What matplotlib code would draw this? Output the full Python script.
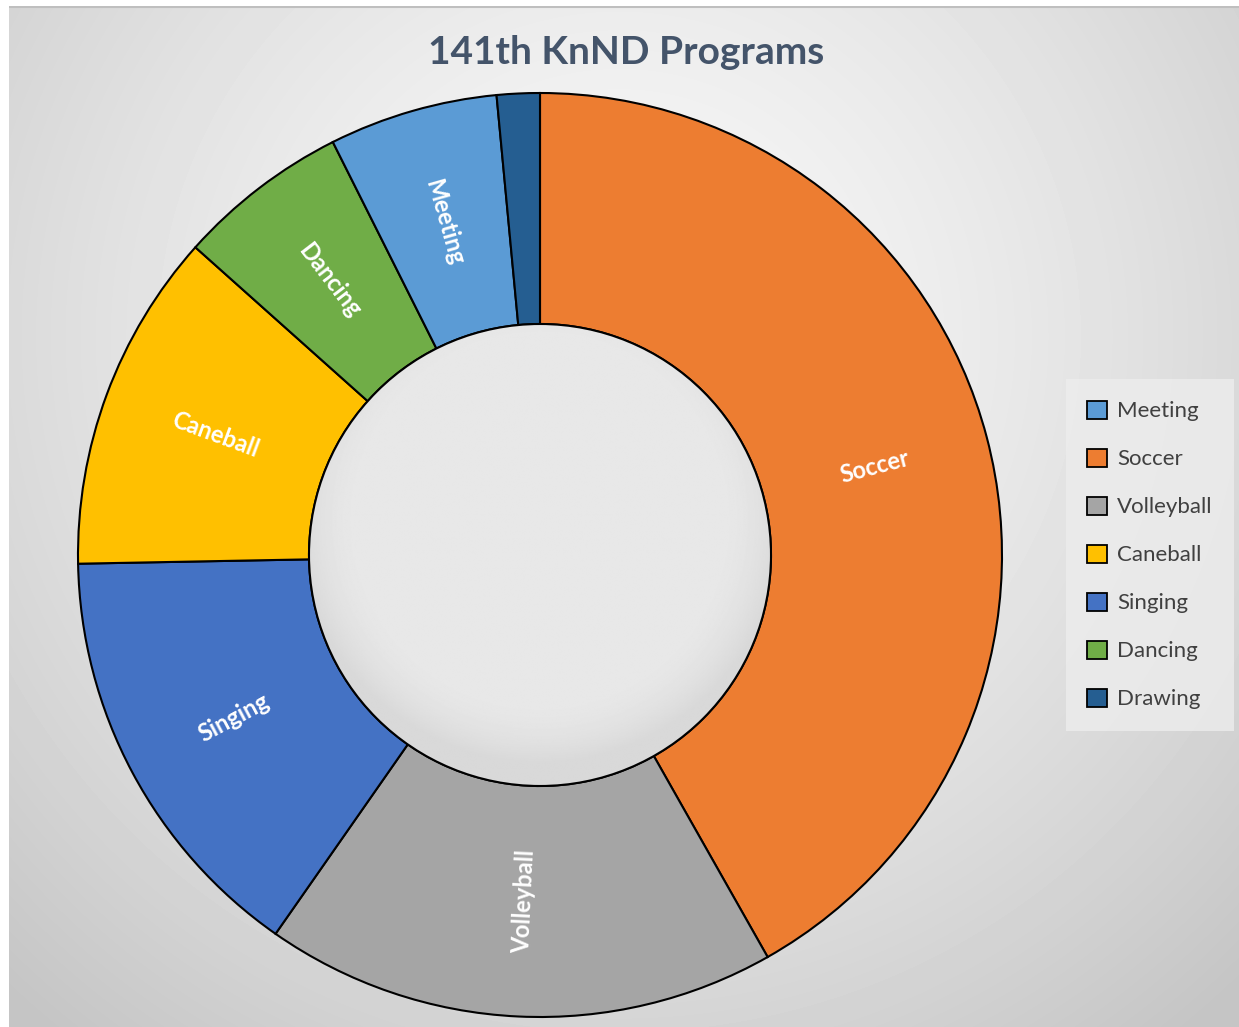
import numpy as np
import matplotlib
matplotlib.use("Agg")
import matplotlib.pyplot as plt
from matplotlib.patches import Patch, Circle

plt.rcParams['font.family'] = ['Lato', 'DejaVu Sans']

# slices in clockwise order starting at 12 o'clock (percent)
programs = ['Soccer', 'Volleyball', 'Singing', 'Caneball', 'Dancing', 'Meeting', 'Drawing']
shares = [41.8, 17.9, 15.0, 11.9, 6.0, 5.9, 1.5]
colors = ['#ED7D31', '#A5A5A5', '#4472C4', '#FFC000', '#70AD47', '#5B9BD5', '#255E91']
legend_order = ['Meeting', 'Soccer', 'Volleyball', 'Caneball', 'Singing', 'Dancing', 'Drawing']
show_label = [True, True, True, True, True, True, False]

W, H = 1239, 1027
fig = plt.figure(figsize=(W / 100, H / 100), dpi=100, facecolor='white')

# chart area with radial gradient
bg = fig.add_axes([9 / W, 0, 1 - 9 / W, 1 - 6 / H])
bg.set_axis_off()
yy, xx = np.mgrid[0:H - 6, 0:W - 9]
d = np.hypot(xx - 610, yy - 330) / 900.0
d = np.clip(d, 0, 1)
light, dark = 0.975, 0.77
grad = light - (light - dark) * d ** 1.4
bg.imshow(grad, cmap='gray', vmin=0, vmax=1, aspect='auto', interpolation='bilinear')
bg.plot([0, W - 10], [0, 0], color='#bfbfbf', lw=1.5)

# donut
cx, cy, R = 540, 1027 - 555, 462
ax = fig.add_axes([(cx - R) / W, (cy - R) / H, 2 * R / W, 2 * R / H])
wedges, _ = ax.pie(shares, colors=colors, startangle=90, counterclock=False, radius=1.0,
                   wedgeprops=dict(width=0.5, edgecolor='black', linewidth=1.5))
ax.set_xlim(-1, 1)
ax.set_ylim(-1, 1)
ax.set_aspect('equal')

# hole with soft inner shading
hole = Circle((0, 0), 0.5, facecolor='none', edgecolor='black', lw=1.5, zorder=5)
ax.add_patch(hole)
n = 400
hy, hx = np.mgrid[-1:1:n * 1j, -1:1:n * 1j]
r = np.hypot(hx, hy + 0.15)
shade = 0.91 - 0.06 * np.clip((r - 0.75) / 0.3, 0, 1) ** 2
im = ax.imshow(shade, cmap='gray', vmin=0, vmax=1, extent=(-0.5, 0.5, -0.5, 0.5),
               interpolation='bilinear', zorder=4)
im.set_clip_path(Circle((0, 0), 0.5, transform=ax.transData))

# labels inside the ring, radial orientation
start = 90.0
for name, val, show in zip(programs, shares, show_label):
    mid = start - val * 3.6 / 2
    start -= val * 3.6
    if not show:
        continue
    a = np.deg2rad(mid)
    rot = mid
    while rot < -90:
        rot += 180
    while rot > 90:
        rot -= 180
    ax.text(0.75 * np.cos(a), 0.75 * np.sin(a), name, rotation=rot, rotation_mode='anchor',
            ha='center', va='center', color='white', fontsize=17, fontweight='bold', zorder=6)

fig.text(626 / W, 1 - 52 / H, '141th KnND Programs', ha='center', va='center',
         fontsize=28, fontweight='bold', color='#44546A')

handles = [Patch(facecolor=colors[programs.index(p)], edgecolor='black', linewidth=1.3)
           for p in legend_order]
leg = fig.legend(handles, legend_order, loc='center', bbox_to_anchor=(1150 / W, 1 - 555 / H),
                 fontsize=16, frameon=True, handlelength=0.9, handleheight=0.9,
                 labelspacing=1.22, handletextpad=0.45, borderpad=0.95, labelcolor='#404040')
leg.get_frame().set_facecolor('#ededed')
leg.get_frame().set_alpha(0.8)
leg.get_frame().set_edgecolor('none')
leg.get_frame().set_boxstyle('square', pad=0)

fig.savefig('out.png', dpi=100, facecolor='white')
